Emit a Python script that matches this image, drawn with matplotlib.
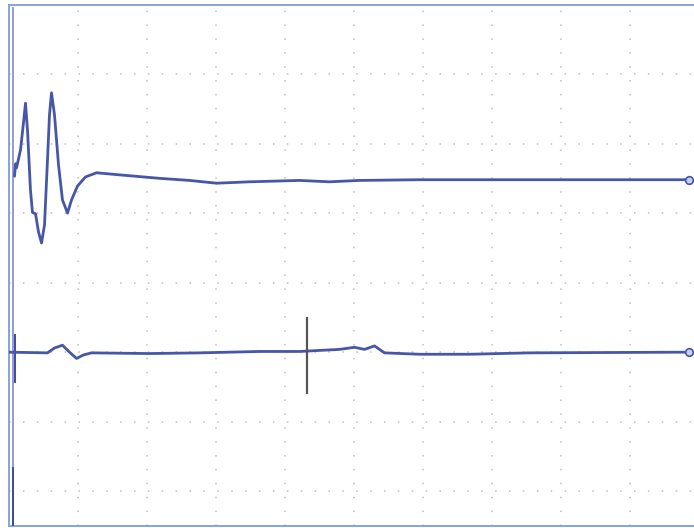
import matplotlib
matplotlib.use("Agg")
import matplotlib.pyplot as plt
import numpy as np

# Data in screen divisions (x: time div, y: vertical div)
upper_x = [0.087, 0.101, 0.116, 0.174, 0.217, 0.246, 0.275, 0.318, 0.347, 0.391, 0.434, 0.478,
           0.521, 0.564, 0.593, 0.622, 0.666, 0.724, 0.781, 0.854, 0.912, 0.999, 1.114,
           1.274, 1.606, 2.185, 2.619, 3.010, 3.488, 4.211, 4.645, 5.080, 5.948, 9.855]
upper_y = [4.53, 4.71, 4.65, 4.91, 5.30, 5.58, 5.19, 4.33, 4.01, 3.99, 3.73, 3.57,
           3.83, 4.76, 5.41, 5.73, 5.41, 4.69, 4.19, 4.00, 4.19, 4.39, 4.52,
           4.58, 4.55, 4.50, 4.47, 4.43, 4.45, 4.47, 4.45, 4.47, 4.48, 4.48]

lower_x = [0.0, 0.564, 0.666, 0.781, 0.883, 0.984, 1.085, 1.201, 2.041, 2.764, 3.632, 4.211,
           4.790, 5.007, 5.152, 5.297, 5.441, 5.948, 6.671, 7.540, 9.855]
lower_y = [2.00, 1.99, 2.06, 2.10, 2.00, 1.91, 1.96, 1.99, 1.98, 1.99, 2.01, 2.01,
           2.04, 2.07, 2.04, 2.09, 1.99, 1.97, 1.97, 1.99, 2.00]

# vertical trace segments at trigger
edge_x = [0.058, 0.058]
edge_y = [6.95, -0.49]
seg1_x = [0.101, 0.101]
seg1_y = [2.24, 1.57]
seg2_x = [0.058, 0.058]
seg2_y = [0.33, -0.49]

# cursor
cursor_x = [4.313, 4.313]
cursor_y = [2.49, 1.41]

x_grid = [1, 2, 3, 4, 5, 6, 7, 8, 9]
y_grid = [0, 1, 2, 3, 4, 5, 6]

W, H = 694, 528
fig = plt.figure(figsize=(W / 100, H / 100), dpi=100)
fig.patch.set_facecolor("white")
left = 8.5 / W
bottom = 2.0 / H
top = 4.5 / H
ax = fig.add_axes([left, bottom, 1 - left, 1 - bottom - top])
ax.set_xlim(0, 685.5 / 69.1)
ax.set_ylim(-0.5, 7.0)

plt.rcParams['lines.scale_dashes'] = False
ax.set_xticks(x_grid)
ax.set_yticks(y_grid)
ax.tick_params(length=0, labelbottom=False, labelleft=False)
ax.grid(True, color="#cccccc", linewidth=1.4, linestyle=(0, (1.1, 8.9)))

for s in ["left", "top", "bottom"]:
    ax.spines[s].set_color("#86a3d8")
    ax.spines[s].set_linewidth(1.4)
ax.spines["right"].set_visible(False)

trace_c = "#4656a8"
ax.plot(edge_x, edge_y, color="#8d93d4", linewidth=1.3, zorder=3)
ax.plot(seg1_x, seg1_y, color="#3e4a9e", linewidth=1.4, zorder=4)
ax.plot(seg2_x, seg2_y, color="#3e4a9e", linewidth=1.4, zorder=4)

ax.plot(upper_x, upper_y, color=trace_c, linewidth=2.0, zorder=4,
        solid_joinstyle="round", solid_capstyle="round")
ax.plot(lower_x, lower_y, color=trace_c, linewidth=2.0, zorder=4,
        solid_joinstyle="round", solid_capstyle="round")

ax.plot(upper_x[-1], upper_y[-1], marker="o", markersize=5.5, mfc="#c9d0ef",
        mec=trace_c, mew=1.2, zorder=5, clip_on=False)
ax.plot(lower_x[-1], lower_y[-1], marker="o", markersize=5.5, mfc="#c9d0ef",
        mec=trace_c, mew=1.2, zorder=5, clip_on=False)

ax.plot(cursor_x, cursor_y, color="#555555", linewidth=1.6, zorder=6)

fig.savefig("out.png", dpi=100)
